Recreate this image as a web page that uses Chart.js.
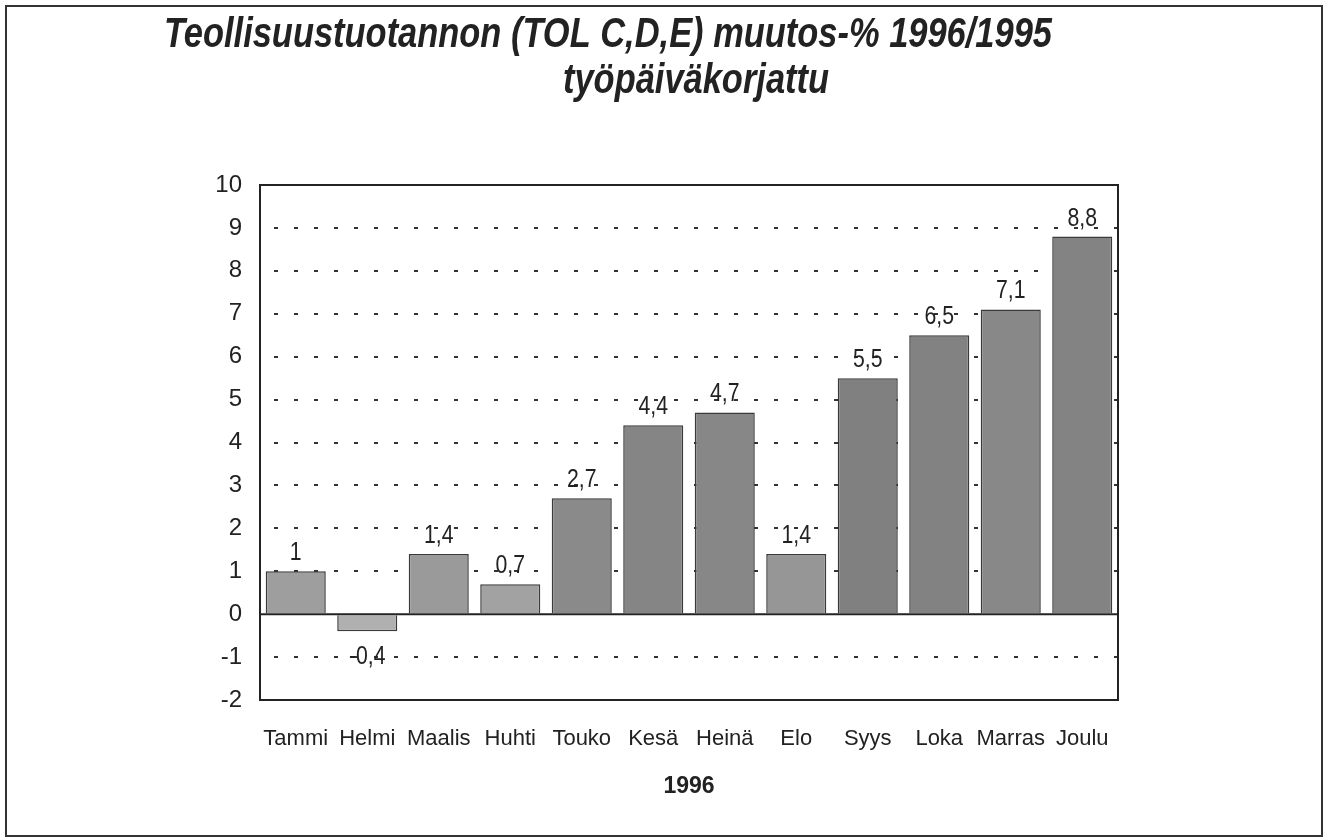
<!DOCTYPE html>
<html>
<head>
<meta charset="utf-8">
<script src="https://cdn.jsdelivr.net/npm/chart.js@4.4.1/dist/chart.umd.min.js"></script>
<style>
  html, body { margin: 0; padding: 0; background: #fff; }
  #wrap { width: 1339px; height: 838px; position: relative; }
</style>
</head>
<body>
<div id="wrap"><canvas id="chart"></canvas></div>
<script>
const months = ["Tammi", "Helmi", "Maalis", "Huhti", "Touko", "Kesä", "Heinä", "Elo", "Syys", "Loka", "Marras", "Joulu"];
const changes = [1, -0.4, 1.4, 0.7, 2.7, 4.4, 4.7, 1.4, 5.5, 6.5, 7.1, 8.8];
const yearLabel = "1996";
const titleLines = ["Teollisuustuotannon (TOL C,D,E) muutos-% 1996/1995", "työpäiväkorjattu"];
const yMin = -2;
const yMax = 10;

const barColors = ["#9e9e9e", "#b0b0b0", "#9a9a9a", "#a2a2a2", "#8a8a8a", "#858585",
  "#878787", "#969696", "#808080", "#828282", "#888888", "#838383"];

const FONT = "'Liberation Sans Narrow', 'Arial Narrow', 'Liberation Sans', Arial, sans-serif";
const ink = "#222";

function fmt(v) {
  return String(v).replace(".", ",");
}

// narrow look: squeeze text horizontally
function squeezed(ctx, text, x, y, sx) {
  ctx.save();
  ctx.translate(x, y);
  ctx.scale(sx, 1);
  ctx.fillText(text, 0, 0);
  ctx.restore();
}

const framePlugin = {
  id: "frame",
  beforeDraw(chart) {
    const ctx = chart.ctx;
    ctx.save();
    ctx.fillStyle = "#fff";
    ctx.fillRect(0, 0, chart.width, chart.height);
    ctx.strokeStyle = "#333";
    ctx.lineWidth = 2;
    ctx.strokeRect(6, 6, 1316, 830);

    ctx.fillStyle = ink;
    ctx.font = "italic bold 42px " + FONT;
    ctx.textAlign = "center";
    ctx.textBaseline = "alphabetic";
    squeezed(ctx, titleLines[0], 608, 47, 0.82);
    squeezed(ctx, titleLines[1], 696, 93, 0.82);
    ctx.restore();
  },
  afterDatasetsDraw(chart) {
    const ctx = chart.ctx;
    const area = chart.chartArea;
    const y = chart.scales.y;
    ctx.save();
    // zero line
    ctx.strokeStyle = ink;
    ctx.lineWidth = 2;
    ctx.beginPath();
    ctx.moveTo(area.left, y.getPixelForValue(0));
    ctx.lineTo(area.right, y.getPixelForValue(0));
    ctx.stroke();
    // plot box
    ctx.strokeRect(area.left, area.top, area.right - area.left, area.bottom - area.top);

    // value labels
    ctx.fillStyle = ink;
    ctx.font = "25px " + FONT;
    ctx.textAlign = "center";
    const meta = chart.getDatasetMeta(0);
    meta.data.forEach((bar, i) => {
      const v = changes[i];
      if (v >= 0) {
        ctx.textBaseline = "alphabetic";
        squeezed(ctx, fmt(v), bar.x, bar.y - 11, 0.85);
      } else {
        ctx.textBaseline = "top";
        squeezed(ctx, fmt(v), bar.x, bar.y + 13, 0.85);
      }
    });
    ctx.restore();
  }
};

new Chart(document.getElementById("chart"), {
  type: "bar",
  data: {
    labels: months,
    datasets: [{
      data: changes,
      backgroundColor: barColors,
      borderColor: "#3a3a3a",
      borderWidth: 1.5,
      barPercentage: 0.84,
      categoryPercentage: 1
    }]
  },
  options: {
    responsive: true,
    maintainAspectRatio: false,
    animation: false,
    layout: { padding: { top: 185, right: 221, left: 200, bottom: 38 } },
    plugins: {
      legend: { display: false },
      title: { display: false },
      tooltip: { enabled: false }
    },
    scales: {
      x: {
        afterFit(scale) { scale.height = 100; },
        grid: { display: false, drawTicks: false },
        border: { display: false },
        ticks: {
          color: ink,
          font: { family: FONT, size: 22 },
          padding: 26,
          maxRotation: 0,
          autoSkip: false
        },
        title: {
          display: true,
          text: yearLabel,
          color: ink,
          font: { family: FONT, size: 23, weight: "bold" },
          padding: { top: 0, bottom: 0 }
        }
      },
      y: {
        min: yMin,
        max: yMax,
        afterFit(scale) { scale.width = 60; },
        ticks: {
          stepSize: 1,
          color: ink,
          font: { family: FONT, size: 24 },
          padding: 18
        },
        grid: {
          drawTicks: false,
          lineWidth: 2,
          color: (c) => (c.tick && [yMin, 0, yMax].includes(c.tick.value)) ? "rgba(0,0,0,0)" : "#333"
        },
        border: { display: false, dash: [4, 16], dashOffset: -14 }
      }
    }
  },
  plugins: [framePlugin]
});
</script>
</body>
</html>
